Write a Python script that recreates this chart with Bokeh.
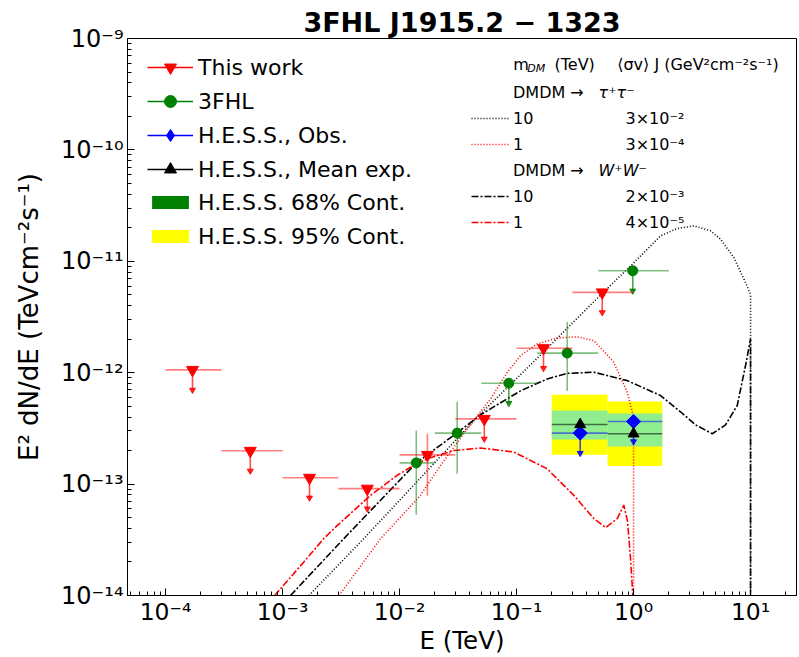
import numpy as np
from bokeh.plotting import figure
from bokeh.models import Range1d, FixedTicker, Legend, LegendItem, Label
from bokeh.embed import file_html
from bokeh.resources import INLINE

FONT = "DejaVu Sans"
NAN = float("nan")

# ---------------- "This work" (energies in TeV, E^2 dN/dE in TeV cm^-2 s^-1)
tw_e_lo = [1e-4, 3e-4, 1e-3, 3e-3, 1e-2, 3e-2, 0.1, 0.3]
tw_e_hi = [3e-4, 1e-3, 3e-3, 1e-2, 3e-2, 0.1, 0.3, 1.0]
tw_e = [1.7e-4, 5.3e-4, 1.7e-3, 5.3e-3, 1.73e-2, 5.3e-2, 0.17, 0.54]
tw_flux = [1.06e-12, 1.99e-13, 1.14e-13, 9.1e-14, 1.83e-13, 3.85e-13, 1.66e-12, 5.26e-12]
tw_flux_lo = [NAN, NAN, NAN, NAN, 7.87e-14, NAN, NAN, NAN]
tw_flux_hi = [NAN, NAN, NAN, NAN, 2.83e-13, NAN, NAN, NAN]
tw_is_ul = [True, True, True, True, False, True, True, True]

# ---------------- 3FHL
fhl_e_lo = [0.01, 0.02, 0.05, 0.15, 0.5]
fhl_e_hi = [0.02, 0.05, 0.15, 0.5, 2.0]
fhl_e = [0.0139, 0.0311, 0.0859, 0.271, 0.985]
fhl_flux = [1.55e-13, 2.87e-13, 8.05e-13, 1.50e-12, 8.22e-12]
fhl_flux_lo = [5.32e-14, 1.24e-13, NAN, 6.87e-13, NAN]
fhl_flux_hi = [3.03e-13, 5.48e-13, NAN, 2.85e-12, NAN]
fhl_is_ul = [False, False, True, False, True]

# ---------------- H.E.S.S.
hess_e_lo = [0.2, 0.6]
hess_e_hi = [0.6, 1.76]
hess_e = [0.35, 1.0]
hess_obs = [2.87e-13, 3.65e-13]
hess_exp = [3.43e-13, 2.83e-13]
hess_68_lo = [2.52e-13, 2.18e-13]
hess_68_hi = [4.57e-13, 4.30e-13]
hess_95_lo = [1.83e-13, 1.45e-13]
hess_95_hi = [6.33e-13, 5.51e-13]

# ---------------- DM annihilation spectra
tau10_e = [1.68e-3, 4.95e-3, 0.0461, 0.160, 0.543, 0.980, 1.70, 2.36, 3.28, 4.55, 5.54, 7.20, 8.77, 10.0, 10.0]
tau10_f = [1.0e-14, 3.24e-14, 3.99e-13, 1.44e-12, 5.19e-12, 9.44e-12, 1.69e-11, 1.97e-11, 2.08e-11,
           1.88e-11, 1.58e-11, 1.08e-11, 6.93e-12, 5.08e-12, 1e-16]

tau1_e = [3.04e-3, 6.89e-3, 0.0151, 0.0224, 0.0379, 0.0600, 0.0834, 0.108, 0.150, 0.223, 0.330,
          0.458, 0.679, 0.883, 1.0, 1.0]
tau1_f = [1.0e-14, 3.24e-14, 7.92e-14, 1.47e-13, 3.13e-13, 5.82e-13, 1.01e-12, 1.42e-12, 1.81e-12,
          2.05e-12, 2.10e-12, 1.94e-12, 1.24e-12, 6.69e-13, 3.99e-13, 1e-16]

ww10_e = [1.17e-3, 3.34e-3, 0.0139, 0.0311, 0.0492, 0.108, 0.183, 0.271, 0.458, 0.883, 1.70, 2.52,
          3.39, 4.71, 6.11, 7.69, 9.06, 10.0, 10.0]
ww10_f = [1.0e-14, 3.24e-14, 1.55e-13, 2.89e-13, 4.19e-13, 6.87e-13, 8.79e-13, 9.86e-13, 1.01e-12,
          8.49e-13, 6.24e-13, 4.46e-13, 3.40e-13, 2.83e-13, 3.40e-13, 5.07e-13, 1.16e-12, 2.01e-12, 1e-16]

ww1_e = [8.55e-4, 1.52e-3, 2.25e-3, 2.94e-3, 5.65e-3, 9.55e-3, 0.0132, 0.0173, 0.0291, 0.0492, 0.0948,
         0.183, 0.309, 0.458, 0.577, 0.726, 0.826, 0.889, 0.942, 0.986]
ww1_f = [1.0e-14, 2.00e-14, 3.24e-14, 4.26e-14, 7.92e-14, 1.20e-13, 1.47e-13, 1.69e-13, 2.00e-13,
         2.11e-13, 1.94e-13, 1.37e-13, 7.92e-14, 4.90e-14, 4.07e-14, 4.90e-14, 6.47e-14, 4.60e-14,
         2.15e-14, 1.0e-14]

# tick labels
x_tick_exp = [-4, -3, -2, -1, 0, 1]
y_tick_exp = [-14, -13, -12, -11, -10, -9]

# DM legend values
dm_sigv = ["3×10⁻²", "3×10⁻⁴", "2×10⁻³", "4×10⁻⁵"]

# length of upper-limit arrows, as a factor in flux
UL_DROP = 10 ** (-0.18)

SUP = str.maketrans("-0123456789", "⁻⁰¹²³⁴⁵⁶⁷⁸⁹")


def pow10_label(n):
    return "10" + str(n).translate(SUP)


p = figure(width=799, height=657, x_axis_type="log", y_axis_type="log",
           x_range=Range1d(4.73e-5, 24.7), y_range=Range1d(1e-14, 1e-9),
           output_backend="svg", toolbar_location=None,
           min_border_left=127, min_border_right=3, min_border_top=38, min_border_bottom=62)

p.title.text = "3FHL J1915.2 − 1323"
p.title.text_font = FONT
p.title.text_font_size = "27px"
p.title.text_font_style = "bold"
p.title.text_color = "black"
p.title.align = "center"
p.title.standoff = 2

p.xgrid.grid_line_color = None
p.ygrid.grid_line_color = None
p.outline_line_color = "black"
p.outline_line_alpha = 1.0
p.background_fill_color = "white"
p.border_fill_color = "white"

xmin = [k * 10.0 ** n for n in range(-5, 2) for k in range(2, 10)]
ymin = [k * 10.0 ** n for n in range(-15, -9) for k in range(2, 10)]
p.xaxis.ticker = FixedTicker(ticks=[10.0 ** n for n in x_tick_exp], minor_ticks=xmin)
p.yaxis.ticker = FixedTicker(ticks=[10.0 ** n for n in y_tick_exp], minor_ticks=ymin)
p.xaxis.major_label_overrides = {10.0 ** n: pow10_label(n) for n in x_tick_exp}
p.yaxis.major_label_overrides = {10.0 ** n: pow10_label(n) for n in y_tick_exp}

p.xaxis.axis_label = "E (TeV)"
p.yaxis.axis_label = "E² dN/dE (TeVcm⁻²s⁻¹)"
for ax in (p.xaxis, p.yaxis):
    ax.major_label_text_font = FONT
    ax.major_label_text_font_size = "24px"
    ax.major_label_text_color = "black"
    ax.axis_label_text_font = FONT
    ax.axis_label_text_font_size = "26px"
    ax.axis_label_text_font_style = "normal"
    ax.axis_label_text_color = "black"
    ax.axis_line_color = "black"
    ax.major_tick_line_color = "black"
    ax.minor_tick_line_color = "black"
    ax.major_tick_in = 7
    ax.major_tick_out = 0
    ax.minor_tick_in = 4
    ax.minor_tick_out = 0
p.xaxis.major_label_text_font_size = "23.5px"
p.xaxis.axis_label_text_font_size = "24.5px"
p.xaxis.major_label_standoff = 2
p.xaxis.axis_label_standoff = -3
p.yaxis.major_label_standoff = 4
p.yaxis.axis_label_standoff = 14

# ---------------- H.E.S.S. containment bands
p.quad(left=hess_e_lo, right=hess_e_hi, bottom=hess_95_lo, top=hess_95_hi,
       fill_color="yellow", line_color=None)
p.quad(left=hess_e_lo, right=hess_e_hi, bottom=hess_68_lo, top=hess_68_hi,
       fill_color="#90ee90", line_color=None)

# ---------------- DM spectra
r_tau10 = p.line(tau10_e, tau10_f, line_color="black", line_width=1.6, line_dash="1 2")
r_tau1 = p.line(tau1_e, tau1_f, line_color="red", line_width=1.6, line_dash="1 2")
r_ww10 = p.line(ww10_e, ww10_f, line_color="black", line_width=1.6, line_dash="7 2 2 2")
r_ww1 = p.line(ww1_e, ww1_f, line_color="red", line_width=1.6, line_dash="7 2 2 2")


def error_points(e, lo, hi, f, flo, fhi, is_ul, color, marker, size, angle=0.0):
    e = np.asarray(e)
    f = np.asarray(f)
    ul = np.asarray(is_ul)
    p.segment(x0=list(lo), y0=list(f), x1=list(hi), y1=list(f),
              line_color=color, line_alpha=0.5, line_width=1.6)
    det = ~ul
    if det.any():
        p.segment(x0=list(e[det]), y0=list(np.asarray(flo)[det]), x1=list(e[det]),
                  y1=list(np.asarray(fhi)[det]), line_color=color, line_alpha=0.5, line_width=1.6)
    if ul.any():
        tip = f[ul] * UL_DROP
        p.segment(x0=list(e[ul]), y0=list(f[ul]), x1=list(e[ul]), y1=list(tip),
                  line_color=color, line_alpha=0.7, line_width=1.6)
        p.scatter(list(e[ul]), list(tip), marker="inverted_triangle", size=6,
                  fill_color=color, line_color=color, alpha=0.85)
    return p.scatter(list(e), list(f), marker=marker, size=size, angle=angle,
                     fill_color=color, line_color=color)


# ---------------- H.E.S.S. points
hess_ul = [True, True]
p.segment(x0=hess_e_lo, y0=hess_exp, x1=hess_e_hi, y1=hess_exp,
          line_color="black", line_alpha=0.55, line_width=1.6)
error_points(hess_e, hess_e_lo, hess_e_hi, hess_obs, [NAN, NAN], [NAN, NAN],
             hess_ul, "blue", "square", 10, angle=np.pi / 4)
r_hess_exp = p.scatter(hess_e, hess_exp, marker="triangle", size=11,
                       fill_color="black", line_color="black")

# ---------------- 3FHL and this work
r_fhl = error_points(fhl_e, fhl_e_lo, fhl_e_hi, fhl_flux, fhl_flux_lo, fhl_flux_hi,
                     fhl_is_ul, "green", "circle", 10)
r_tw = error_points(tw_e, tw_e_lo, tw_e_hi, tw_flux, tw_flux_lo, tw_flux_hi,
                    tw_is_ul, "red", "inverted_triangle", 12)


# ---------------- legend handles (never visible in the plot area)
def handle_line(color, alpha=1.0):
    return p.line([NAN], [NAN], line_color=color, line_width=1.6, line_alpha=alpha)


h_red = handle_line("red")
h_green = handle_line("green")
h_blue = handle_line("blue")
h_black = handle_line("black")
h_diamond = p.scatter([NAN], [NAN], marker="diamond", size=15, fill_color="blue", line_color="blue")
h_68 = p.quad(left=[NAN], right=[NAN], bottom=[NAN], top=[NAN], fill_color="green", line_color=None)
h_95 = p.quad(left=[NAN], right=[NAN], bottom=[NAN], top=[NAN], fill_color="yellow", line_color=None)
h_blank = handle_line("white", alpha=0.0)

legend_common = dict(padding=0, margin=0, border_line_color=None, background_fill_alpha=0.0,
                     label_text_font=FONT, label_text_color="black")

leg_points = Legend(items=[
    LegendItem(label="This work", renderers=[h_red, r_tw]),
    LegendItem(label="3FHL", renderers=[h_green, r_fhl]),
    LegendItem(label="H.E.S.S., Obs.", renderers=[h_blue, h_diamond]),
    LegendItem(label="H.E.S.S., Mean exp.", renderers=[h_black, r_hess_exp]),
], location=(20, 411), glyph_width=46, glyph_height=30, label_height=30, spacing=4,
    label_standoff=5, label_text_font_size="22px", **legend_common)
p.add_layout(leg_points)

leg_bands = Legend(items=[
    LegendItem(label="H.E.S.S. 68% Cont.", renderers=[h_68]),
    LegendItem(label="H.E.S.S. 95% Cont.", renderers=[h_95]),
], location=(20, 346), glyph_width=46, glyph_height=16, label_height=26, spacing=8,
    label_standoff=5, label_text_font_size="22px", **legend_common)
p.add_layout(leg_bands)

leg_dm = Legend(items=[
    LegendItem(label="DMDM →", renderers=[h_blank]),
    LegendItem(label="10", renderers=[r_tau10]),
    LegendItem(label="1", renderers=[r_tau1]),
    LegendItem(label="DMDM →", renderers=[h_blank]),
    LegendItem(label="10", renderers=[r_ww10]),
    LegendItem(label="1", renderers=[r_ww1]),
], location=(344, 363), glyph_width=38, glyph_height=20, label_height=20, spacing=6,
    label_standoff=4, label_text_font_size="16px", **legend_common)
p.add_layout(leg_dm)


def screen_label(x, y, text, size="16px", style="normal"):
    p.add_layout(Label(x=x, y=y, x_units="screen", y_units="screen", text=text,
                       text_font=FONT, text_font_size=size, text_font_style=style,
                       text_baseline="middle", text_align="left", text_color="black"))


# DM legend header and the <sigma v> J column
screen_label(385.7, 531.0, "m")
screen_label(399.7, 527.3, "DM", size="11px", style="italic")
screen_label(427.0, 531.0, "(TeV)")
screen_label(489.7, 531.0, "⟨σv⟩ J (GeV²cm⁻²s⁻¹)")
screen_label(471.0, 503.3, "τ⁺τ⁻", style="italic")
screen_label(471.0, 425.3, "W⁺W⁻", style="italic")
for yy, txt in zip([477.3, 451.3, 399.3, 373.3], dm_sigv):
    screen_label(498.0, yy, txt)

open("out.html", "w").write(file_html(p, INLINE))
